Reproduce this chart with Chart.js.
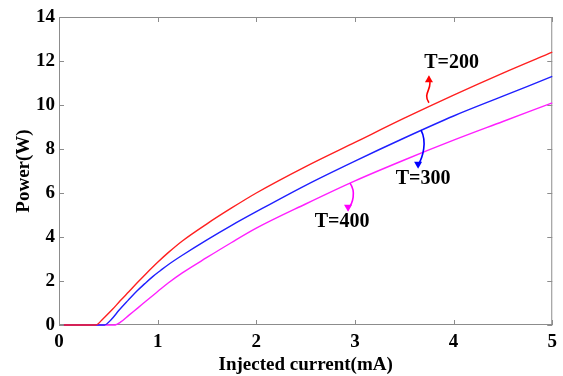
<!DOCTYPE html>
<html>
<head>
<meta charset="utf-8">
<script src="https://cdn.jsdelivr.net/npm/chart.js@4/dist/chart.umd.min.js"></script>
<style>
  html, body { margin: 0; padding: 0; background: #fff; }
  #wrap { width: 563px; height: 376px; }
</style>
</head>
<body>
<div id="wrap"><canvas id="grafica" width="563" height="376"></canvas></div>
<script>
// datos (corriente en mA, potencia en W)
const corrienteT200 = [0.05, 0.37, 0.45, 0.54, 0.62, 0.71, 0.8, 0.88, 1.0, 1.11, 1.25, 1.5, 1.75, 2.0, 2.5, 3.0, 3.5, 4.0, 4.5, 5.0];
const potenciaT200  = [0, 0, 0.3, 0.7, 1.1, 1.52, 1.95, 2.32, 2.85, 3.3, 3.82, 4.6, 5.32, 6.0, 7.2, 8.3, 9.4, 10.45, 11.45, 12.4];

const corrienteT300 = [0.05, 0.46, 0.53, 0.61, 0.7, 0.78, 0.87, 0.95, 1.03, 1.11, 1.25, 1.5, 1.75, 2.0, 2.5, 3.0, 3.5, 4.0, 4.5, 5.0];
const potenciaT300  = [0, 0, 0.25, 0.68, 1.12, 1.5, 1.88, 2.2, 2.48, 2.75, 3.17, 3.87, 4.53, 5.15, 6.35, 7.45, 8.5, 9.5, 10.4, 11.3];

const corrienteT400 = [0.05, 0.56, 0.63, 0.71, 0.8, 0.88, 1.0, 1.11, 1.25, 1.5, 1.75, 2.0, 2.5, 3.0, 3.5, 4.0, 4.5, 5.0];
const potenciaT400  = [0, 0, 0.15, 0.45, 0.78, 1.08, 1.52, 1.92, 2.37, 3.07, 3.75, 4.4, 5.5, 6.55, 7.5, 8.4, 9.25, 10.1];

const ticksX = [0, 1, 2, 3, 4, 5];
const ticksY = [0, 2, 4, 6, 8, 10, 12, 14];

// etiquetas: texto, posicion del texto, inicio y fin de la flecha (en unidades de datos)
const etiquetas = [
    { texto: "T=200", color: "#ff0000", texto_x: 3.98, texto_y: 11.9, desde: [3.75, 10.1], hasta: [3.75, 11.35], curva: -1 },
    { texto: "T=300", color: "#0000ff", texto_x: 3.69, texto_y: 6.64, desde: [3.67, 8.86], hasta: [3.64, 7.1], curva: 1 },
    { texto: "T=400", color: "#ff00ff", texto_x: 2.87, texto_y: 4.68, desde: [2.95, 6.45], hasta: [2.93, 5.15], curva: 1 }
];

const fuente = "'Liberation Serif', 'Times New Roman', serif";

function armarPuntos(xs, ys) {
    return xs.map((x, i) => ({ x: x, y: ys[i] }));
}

// marco gris con marcas hacia adentro en los cuatro lados
const marco = {
    id: 'marco',
    beforeDatasetsDraw(chart) {
        const { ctx, chartArea, scales } = chart;
        const { left, right, top, bottom } = chartArea;
        ctx.save();
        ctx.strokeStyle = '#8c8c8c';
        ctx.lineWidth = 1;
        ctx.strokeRect(left + 0.5, top + 0.5, right - left - 1, bottom - top - 1);
        ticksX.forEach(v => {
            const px = Math.round(scales.x.getPixelForValue(v)) + 0.5;
            ctx.beginPath();
            ctx.moveTo(px, bottom); ctx.lineTo(px, bottom - 5);
            ctx.moveTo(px, top); ctx.lineTo(px, top + 5);
            ctx.stroke();
        });
        ticksY.forEach(v => {
            const py = Math.round(scales.y.getPixelForValue(v)) + 0.5;
            ctx.beginPath();
            ctx.moveTo(left, py); ctx.lineTo(left + 5, py);
            ctx.moveTo(right, py); ctx.lineTo(right - 5, py);
            ctx.stroke();
        });
        ctx.restore();
    }
};

// flechas onduladas y textos T=...
const anotaciones = {
    id: 'anotaciones',
    afterDatasetsDraw(chart) {
        const { ctx, scales } = chart;
        ctx.save();
        etiquetas.forEach(e => {
            const x1 = scales.x.getPixelForValue(e.desde[0]);
            const y1 = scales.y.getPixelForValue(e.desde[1]);
            const x2 = scales.x.getPixelForValue(e.hasta[0]);
            const y2 = scales.y.getPixelForValue(e.hasta[1]);
            const dy = y2 - y1;
            ctx.strokeStyle = e.color;
            ctx.fillStyle = e.color;
            ctx.lineWidth = 1.6;
            ctx.beginPath();
            ctx.moveTo(x1, y1);
            if (e.curva < 0) {
                // forma de S
                ctx.bezierCurveTo(x1 - 7, y1 + dy * 0.35, x1 + 5, y1 + dy * 0.55, x2, y2 - dy * 0.1);
            } else {
                ctx.bezierCurveTo(x1 + 6, y1 + dy * 0.3, x2 + 5, y1 + dy * 0.7, x2, y2 - dy * 0.1);
            }
            ctx.lineTo(x2, y2 - dy * 0.05);
            ctx.stroke();
            // punta
            const s = Math.sign(dy);
            ctx.beginPath();
            ctx.moveTo(x2, y2);
            ctx.lineTo(x2 - 4, y2 - s * 7);
            ctx.lineTo(x2 + 4, y2 - s * 7);
            ctx.closePath();
            ctx.fill();
            // texto
            ctx.fillStyle = '#000';
            ctx.font = "bold 20px " + fuente;
            ctx.textAlign = 'center';
            ctx.textBaseline = 'middle';
            ctx.fillText(e.texto, scales.x.getPixelForValue(e.texto_x), scales.y.getPixelForValue(e.texto_y));
        });
        ctx.restore();
    }
};

const ctx = document.getElementById("grafica").getContext("2d");
new Chart(ctx, {
    type: "line",
    data: {
        datasets: [
            {
                label: "T=200",
                data: armarPuntos(corrienteT200, potenciaT200),
                borderColor: "#ff2020",
                borderWidth: 1.4,
                pointRadius: 0,
                cubicInterpolationMode: 'monotone',
                clip: 3,
                fill: false
            },
            {
                label: "T=300",
                data: armarPuntos(corrienteT300, potenciaT300),
                borderColor: "#2020ff",
                borderWidth: 1.4,
                pointRadius: 0,
                cubicInterpolationMode: 'monotone',
                clip: 3,
                fill: false
            },
            {
                label: "T=400",
                data: armarPuntos(corrienteT400, potenciaT400),
                borderColor: "#ff20ff",
                borderWidth: 1.4,
                pointRadius: 0,
                cubicInterpolationMode: 'monotone',
                clip: 3,
                fill: false
            }
        ]
    },
    options: {
        responsive: false,
        animation: false,
        events: [],
        layout: { padding: { top: 17, right: 6, left: 0, bottom: 0 } },
        plugins: {
            legend: { display: false },
            tooltip: { enabled: false }
        },
        scales: {
            x: {
                type: 'linear',
                min: 0,
                max: 5,
                afterBuildTicks: s => { s.ticks = ticksX.map(v => ({ value: v })); },
                afterFit: s => { s.height = 51; },
                grid: { display: false, drawTicks: false },
                border: { display: false },
                ticks: {
                    color: '#000',
                    padding: 6,
                    maxRotation: 0,
                    font: { family: fuente, size: 19, weight: 'bold' }
                },
                title: {
                    display: true,
                    text: 'Injected current(mA)',
                    color: '#000',
                    padding: { top: 0, bottom: 0 },
                    font: { family: fuente, size: 19, weight: 'bold' }
                }
            },
            y: {
                type: 'linear',
                min: 0,
                max: 14,
                afterBuildTicks: s => { s.ticks = ticksY.map(v => ({ value: v })); },
                afterFit: s => { s.width = 59; },
                grid: { display: false, drawTicks: false },
                border: { display: false },
                ticks: {
                    color: '#000',
                    padding: 4,
                    font: { family: fuente, size: 19, weight: 'bold' }
                },
                title: {
                    display: true,
                    text: 'Power(W)',
                    color: '#000',
                    padding: { top: 13, bottom: 0 },
                    font: { family: fuente, size: 19, weight: 'bold' }
                }
            }
        }
    },
    plugins: [marco, anotaciones]
});
</script>
</body>
</html>
